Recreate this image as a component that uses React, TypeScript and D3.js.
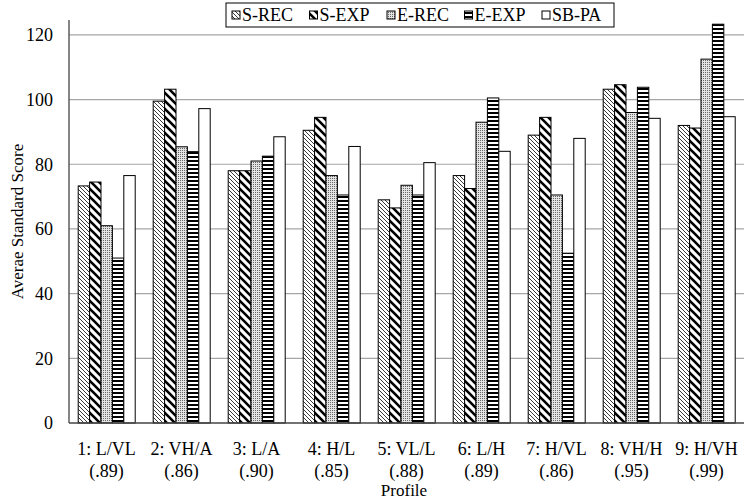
import * as d3 from "d3";

const categories = ["1: L/VL|(.89)", "2: VH/A|(.86)", "3: L/A|(.90)", "4: H/L|(.85)", "5: VL/L|(.88)", "6: L/H|(.89)", "7: H/VL|(.86)", "8: VH/H|(.95)", "9: H/VH|(.99)"];
const seriesNames = ["S-REC", "S-EXP", "E-REC", "E-EXP", "SB-PA"];

const sRec = [73.3, 99.5, 78, 90.5, 69, 76.5, 89, 103.2, 92];
const sExp = [74.5, 103.2, 78, 94.5, 66.5, 72.5, 94.5, 104.6, 91.2];
const eRec = [61, 85.4, 81, 76.5, 73.5, 93, 70.5, 96, 112.5];
const eExp = [51, 83.9, 82.5, 70.5, 70.5, 100.5, 52.5, 103.8, 123.3];
const sbPa = [76.5, 97.2, 88.5, 85.5, 80.5, 84, 88, 94.2, 94.7];
const yTicks = [0, 20, 40, 60, 80, 100, 120];

const allSeries = [sRec, sExp, eRec, eExp, sbPa];
const fills = ["url(#pSRec)", "url(#pSExp)", "url(#pERec)", "url(#pEExp)", "#fff"];

const W = 752, H = 501;
const margin = { top: 20, right: 8, bottom: 78, left: 69 };

export default function App() {
  // scales
  const x = d3.scaleBand().domain(categories).range([margin.left, W - margin.right]);
  const xs = d3.scaleBand().domain(seriesNames).range([9.2, 66.2]);
  const y = d3.scaleLinear().domain([0, 124.6]).range([H - margin.bottom, margin.top]);
  const ts = { fontFamily: "Liberation Serif, Times New Roman, serif" };

  return (
    <svg width={W} height={H} style={{ position: "absolute", left: 0, top: 0, background: "#fff" }}>
      <defs>
        <pattern id="pSRec" patternUnits="userSpaceOnUse" width="4" height="4">
          <rect width="4" height="4" fill="#fff" />
          <path d="M-1,-1 L5,5 M-1,3 L1,5 M3,-1 L5,1" stroke="#222" strokeWidth="0.9" />
        </pattern>
        <pattern id="pSExp" patternUnits="userSpaceOnUse" width="8" height="8">
          <rect width="8" height="8" fill="#fff" />
          <path d="M-2,-2 L10,10 M-2,6 L2,10 M6,-2 L10,2" stroke="#000" strokeWidth="2.6" />
        </pattern>
        <pattern id="pERec" patternUnits="userSpaceOnUse" width="2" height="2">
          <rect width="2" height="2" fill="#e4e4e4" />
          <rect width="1" height="1" fill="#666" />
        </pattern>
        <pattern id="pEExp" patternUnits="userSpaceOnUse" width="4" height="4">
          <rect width="4" height="4" fill="#fff" />
          <rect y="0" width="4" height="2" fill="#000" />
        </pattern>
      </defs>

      {/* gridlines */}
      {yTicks.filter(t => t > 0).map(t => (
        <line key={t} x1={margin.left} x2={W - margin.right} y1={y(t)} y2={y(t)} stroke="#a6a6a6" strokeWidth={1.2} />
      ))}

      {/* bars */}
      {categories.map((c, i) => (
        <g key={c} transform={`translate(${x(c)},0)`}>
          {allSeries.map((s, j) => (
            <rect key={j} x={xs(seriesNames[j])} y={y(s[i])} width={xs.bandwidth()} height={y(0) - y(s[i])}
              fill={fills[j]} stroke="#000" strokeWidth={1} />
          ))}
        </g>
      ))}

      {/* axes */}
      <line x1={margin.left} x2={margin.left} y1={margin.top} y2={y(0)} stroke="#444" strokeWidth={1.3} />
      <line x1={margin.left} x2={W - margin.right} y1={y(0)} y2={y(0)} stroke="#444" strokeWidth={1.3} />

      {yTicks.map(t => (
        <text key={t} x={53} y={y(t)} dy="0.35em" textAnchor="end" fontSize={18} style={ts}>{t}</text>
      ))}

      {categories.map(c => {
        const [a, b] = c.split("|");
        const cx = (x(c) ?? 0) + x.bandwidth() / 2;
        return (
          <text key={c} x={cx} textAnchor="middle" fontSize={18} style={ts}>
            <tspan x={cx} y={455}>{a}</tspan>
            <tspan x={cx} y={477}>{b}</tspan>
          </text>
        );
      })}

      <text x={404} y={496} textAnchor="middle" fontSize={17} style={ts}>Profile</text>
      <text transform={`translate(23,${(margin.top + y(0)) / 2}) rotate(-90)`} textAnchor="middle" fontSize={17} style={ts}>Averae Standard Score</text>

      {/* legend */}
      <rect x={226} y={3} width={388} height={24} fill="#fff" stroke="#000" strokeWidth={1} />
      {seriesNames.map((n, j) => {
        const lx = 232 + j * 77.5;
        return (
          <g key={n}>
            <rect x={lx} y={11} width={8} height={8} fill={fills[j]} stroke="#000" strokeWidth={1} />
            <text x={lx + 10} y={21} fontSize={18} style={ts}>{n}</text>
          </g>
        );
      })}
    </svg>
  );
}
